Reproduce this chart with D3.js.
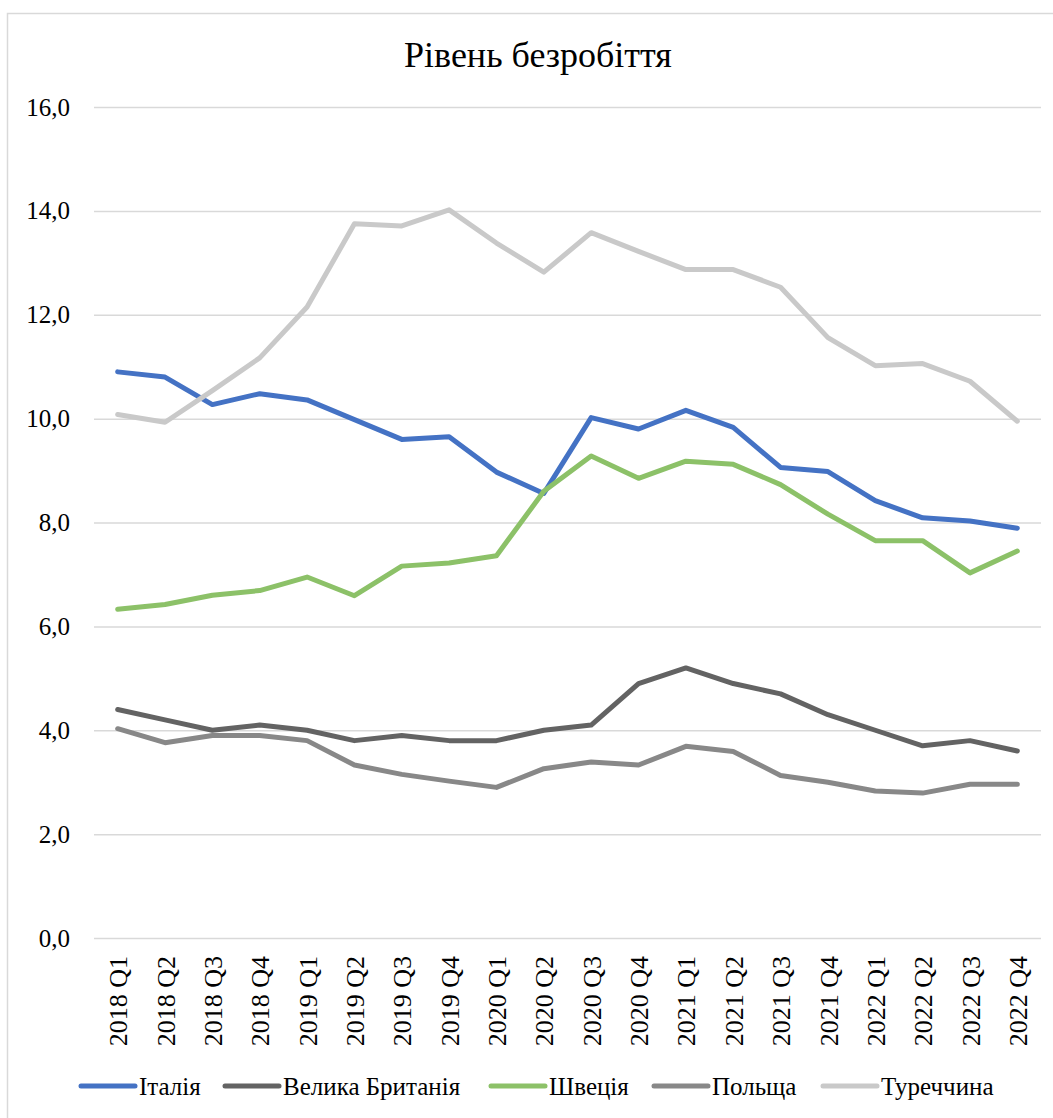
<!DOCTYPE html>
<html>
<head>
<meta charset="utf-8">
<script src="https://cdn.jsdelivr.net/npm/d3@7"></script>
<style>
  html, body { margin: 0; padding: 0; background: #fff; }
  svg { display: block; }
</style>
</head>
<body>
<svg id="chart" width="1053" height="1118"></svg>
<script>
// Quarterly periods
const quarters = [
  "2018 Q1","2018 Q2","2018 Q3","2018 Q4",
  "2019 Q1","2019 Q2","2019 Q3","2019 Q4",
  "2020 Q1","2020 Q2","2020 Q3","2020 Q4",
  "2021 Q1","2021 Q2","2021 Q3","2021 Q4",
  "2022 Q1","2022 Q2","2022 Q3","2022 Q4"
];

// Unemployment rate, %
const italy  = [10.9, 10.8, 10.27, 10.48, 10.36, 9.98, 9.6, 9.65, 8.97, 8.56, 10.02, 9.8, 10.16, 9.83, 9.06, 8.98, 8.42, 8.09, 8.03, 7.89];
const uk     = [4.4, 4.2, 4.0, 4.1, 4.0, 3.8, 3.9, 3.8, 3.8, 4.0, 4.1, 4.9, 5.2, 4.9, 4.7, 4.3, 4.0, 3.7, 3.8, 3.6];
const sweden = [6.33, 6.42, 6.6, 6.69, 6.95, 6.59, 7.16, 7.22, 7.36, 8.6, 9.28, 8.85, 9.18, 9.12, 8.73, 8.16, 7.65, 7.65, 7.03, 7.45];
const poland = [4.03, 3.76, 3.9, 3.9, 3.8, 3.33, 3.15, 3.02, 2.9, 3.26, 3.39, 3.33, 3.69, 3.59, 3.13, 3.0, 2.83, 2.79, 2.96, 2.96];
const turkey = [10.08, 9.93, 10.54, 11.17, 12.15, 13.75, 13.71, 14.02, 13.38, 12.82, 13.58, 13.22, 12.87, 12.87, 12.53, 11.56, 11.02, 11.06, 10.72, 9.95];

const seriesNames  = ["Італія", "Велика Британія", "Швеція", "Польща", "Туреччина"];
const seriesValues = [italy, uk, sweden, poland, turkey];
const seriesColors = ["#4472C4", "#636363", "#8CC168", "#888888", "#C9C9C9"];

const yTicks = [0, 2, 4, 6, 8, 10, 12, 14, 16];
const title = "Рівень безробіття";

const FONT = "Liberation Serif, Tinos, Times New Roman, DejaVu Serif, serif";

const svg = d3.select("#chart").attr("font-family", FONT);

// outer chart frame
svg.append("rect")
  .attr("x", 7.5).attr("y", 13.5)
  .attr("width", 1100).attr("height", 1200)
  .attr("fill", "none").attr("stroke", "#d9d9d9").attr("stroke-width", 1.5);

const plot = { left: 94, right: 1041, top: 107, bottom: 938 };

const x = d3.scalePoint()
  .domain(quarters)
  .range([plot.left, plot.right])
  .padding(0.5);

const y = d3.scaleLinear()
  .domain([0, 16])
  .range([plot.bottom, plot.top]);

const fmt = v => d3.format(".1f")(v).replace(".", ",");

// horizontal gridlines + y labels
const yAxis = d3.axisLeft(y)
  .tickValues(yTicks)
  .tickSize(-(plot.right - plot.left))
  .tickFormat(fmt)
  .tickPadding(24);

const gy = svg.append("g")
  .attr("transform", `translate(${plot.left},0)`)
  .call(yAxis)
  .attr("font-family", FONT)
  .attr("font-size", 25);
gy.select(".domain").remove();
gy.selectAll(".tick line").attr("stroke", "#d9d9d9").attr("stroke-width", 1.5);
gy.selectAll(".tick text").attr("fill", "#000");

// x labels, rotated
const xAxis = d3.axisBottom(x).tickSize(0).tickPadding(0);
const gx = svg.append("g")
  .attr("transform", `translate(0,${plot.bottom})`)
  .call(xAxis)
  .attr("font-family", FONT)
  .attr("font-size", 26);
gx.select(".domain").remove();
gx.selectAll(".tick text")
  .attr("fill", "#000")
  .attr("text-anchor", "end")
  .attr("transform", "rotate(-90)")
  .attr("x", -18)
  .attr("y", 0)
  .attr("dy", "0.35em");

// series lines, later series drawn on top
const line = d3.line()
  .x((d, i) => x(quarters[i]))
  .y(d => y(d));

seriesValues.forEach((vals, k) => {
  svg.append("path")
    .datum(vals)
    .attr("d", line)
    .attr("fill", "none")
    .attr("stroke", seriesColors[k])
    .attr("stroke-width", 5)
    .attr("stroke-linejoin", "round")
    .attr("stroke-linecap", "round");
});

// title
svg.append("text")
  .attr("x", 538)
  .attr("y", 67)
  .attr("text-anchor", "middle")
  .attr("font-size", 36)
  .attr("fill", "#000")
  .text(title);

// legend
const legendX = [81, 225, 491, 654, 823];
const legendY = 1086;
const lg = svg.append("g").attr("font-size", 25);
seriesNames.forEach((name, k) => {
  const lx = legendX[k];
  lg.append("line")
    .attr("x1", lx).attr("x2", lx + 54)
    .attr("y1", legendY).attr("y2", legendY)
    .attr("stroke", seriesColors[k])
    .attr("stroke-width", 5)
    .attr("stroke-linecap", "round");
  lg.append("text")
    .attr("x", lx + 58)
    .attr("y", legendY)
    .attr("dy", "0.35em")
    .attr("fill", "#000")
    .text(name);
});
</script>
</body>
</html>
